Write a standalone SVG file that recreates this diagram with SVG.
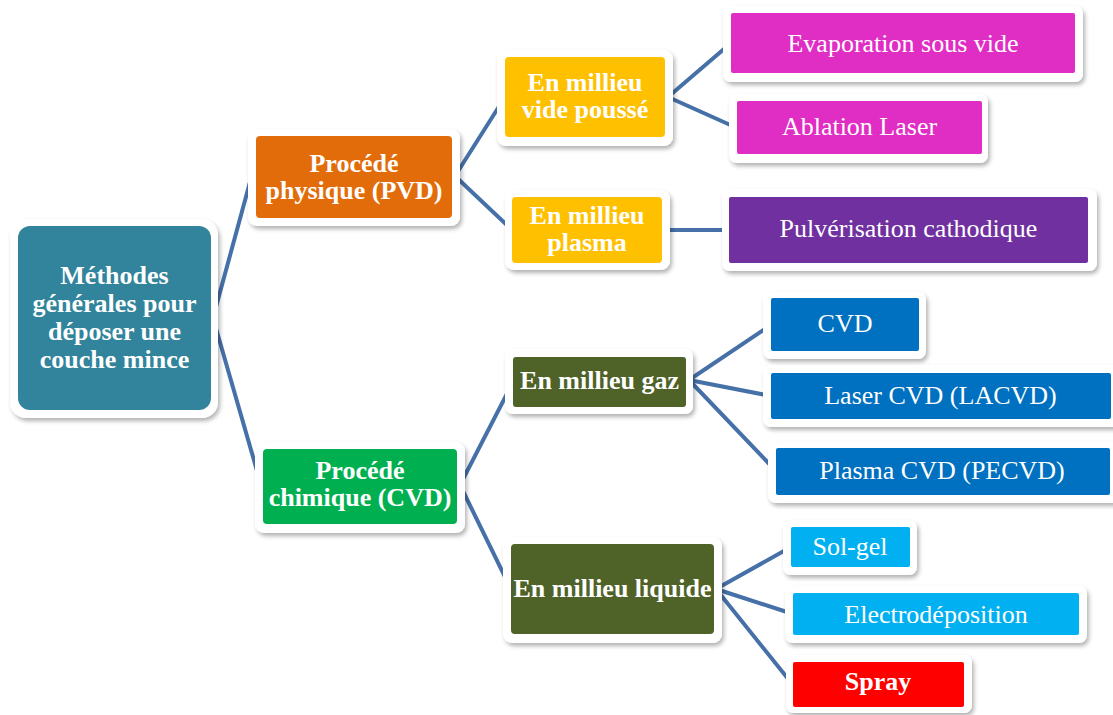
<svg xmlns="http://www.w3.org/2000/svg" width="1113" height="715" viewBox="0 0 1113 715">
<defs>
<filter id="sh" x="-10%" y="-10%" width="125%" height="130%">
<feDropShadow dx="2" dy="3" stdDeviation="2.2" flood-color="#000" flood-opacity="0.3"/>
</filter>
<style>
.frame{fill:#fff;filter:url(#sh)}
.conn{stroke:#4670a8;stroke-width:4;fill:none;stroke-linecap:round;stroke-linejoin:round}
text{font-family:"Liberation Serif","Times New Roman",serif;fill:#fff;text-anchor:middle;font-size:26px}
.b{font-weight:bold}
</style>
</defs>
<rect width="1113" height="715" fill="#fff"/>
<g id="connectors">
<polyline class="conn" points="250,182 213,318 262,488"/>
<polyline class="conn" points="505,97 455,176 512,230"/>
<polyline class="conn" points="731,43 668,97 737,128"/>
<line class="conn" x1="662" y1="230" x2="729" y2="230"/>
<polyline class="conn" points="513,382 460,485 511,589"/>
<polyline class="conn" points="771,325 689,380 771,396"/>
<line class="conn" x1="689" y1="380" x2="776" y2="471"/>
<polyline class="conn" points="791,547 716,589 793,614"/>
<line class="conn" x1="716" y1="589" x2="793" y2="685"/>
</g>
<g id="root">
<rect class="frame" x="10" y="219" width="208" height="199" rx="16"/>
<rect x="18" y="226" width="193" height="184" rx="12" fill="#31849b"/>
<text class="b" x="114.5" y="284" font-size="28">Méthodes</text>
<text class="b" x="114.5" y="312" font-size="28">générales pour</text>
<text class="b" x="114.5" y="340" font-size="28">déposer une</text>
<text class="b" x="114.5" y="368" font-size="28">couche mince</text>
</g>
<g id="pvd">
<rect class="frame" x="248" y="129" width="212" height="97" rx="9"/>
<rect x="256" y="136" width="196" height="82" rx="4" fill="#e36c0a"/>
<text class="b" x="354" y="172">Procédé</text>
<text class="b" x="354" y="199">physique (PVD)</text>
</g>
<g id="cvd">
<rect class="frame" x="255" y="442" width="210" height="91" rx="9"/>
<rect x="263" y="449" width="194" height="75" rx="4" fill="#00b050"/>
<text class="b" x="360" y="479">Procédé</text>
<text class="b" x="360" y="506">chimique (CVD)</text>
</g>
<g id="vide">
<rect class="frame" x="497" y="50" width="176" height="96" rx="9"/>
<rect x="505" y="57" width="160" height="80" rx="4" fill="#ffc000"/>
<text class="b" x="585" y="91">En millieu</text>
<text class="b" x="585" y="118">vide poussé</text>
</g>
<g id="plasma">
<rect class="frame" x="505" y="190" width="165" height="80" rx="9"/>
<rect x="512" y="197" width="150" height="66" rx="4" fill="#ffc000"/>
<text class="b" x="587" y="224">En millieu</text>
<text class="b" x="587" y="251">plasma</text>
</g>
<g id="evaporation">
<rect class="frame" x="723" y="6" width="360" height="76" rx="8"/>
<rect x="731" y="13" width="344" height="60" rx="2" fill="#e02dc4"/>
<text x="903" y="52">Evaporation sous vide</text>
</g>
<g id="ablation">
<rect class="frame" x="729" y="94" width="259" height="69" rx="8"/>
<rect x="737" y="101" width="245" height="53" rx="2" fill="#e02dc4"/>
<text x="859.5" y="135">Ablation Laser</text>
</g>
<g id="pulverisation">
<rect class="frame" x="722" y="189" width="375" height="82" rx="8"/>
<rect x="729" y="197" width="359" height="66" rx="2" fill="#7030a0"/>
<text x="908.5" y="237">Pulvérisation cathodique</text>
</g>
<g id="gaz">
<rect class="frame" x="505" y="349" width="188" height="65" rx="8"/>
<rect x="513" y="357" width="173" height="50" rx="3" fill="#4f6228"/>
<text class="b" x="599.5" y="389">En millieu gaz</text>
</g>
<g id="liquide">
<rect class="frame" x="503" y="537" width="219" height="106" rx="9"/>
<rect x="511" y="544" width="203" height="90" rx="4" fill="#4f6228"/>
<text class="b" x="612.5" y="597">En millieu liquide</text>
</g>
<g id="cvd-leaf">
<rect class="frame" x="763" y="292" width="163" height="67" rx="8"/>
<rect x="771" y="298" width="148" height="53" rx="2" fill="#0070c0"/>
<text x="845" y="332">CVD</text>
</g>
<g id="lacvd">
<rect class="frame" x="763" y="365" width="360" height="62" rx="8"/>
<rect x="771" y="373" width="340" height="46" rx="2" fill="#0070c0"/>
<text x="940.5" y="404">Laser CVD (LACVD)</text>
</g>
<g id="pecvd">
<rect class="frame" x="768" y="442" width="355" height="61" rx="8"/>
<rect x="776" y="448" width="334" height="47" rx="2" fill="#0070c0"/>
<text x="942" y="479">Plasma CVD (PECVD)</text>
</g>
<g id="solgel">
<rect class="frame" x="783" y="520" width="134" height="55" rx="8"/>
<rect x="791" y="527" width="119" height="40" rx="2" fill="#00b0f0"/>
<text x="850" y="555">Sol-gel</text>
</g>
<g id="electro">
<rect class="frame" x="785" y="586" width="302" height="57" rx="8"/>
<rect x="793" y="593" width="286" height="42" rx="2" fill="#00b0f0"/>
<text x="936" y="623">Electrodéposition</text>
</g>
<g id="spray">
<rect class="frame" x="786" y="655" width="186" height="58" rx="8"/>
<rect x="793" y="662" width="171" height="45" rx="2" fill="#ff0000"/>
<text class="b" x="878" y="690">Spray</text>
</g>
</svg>
